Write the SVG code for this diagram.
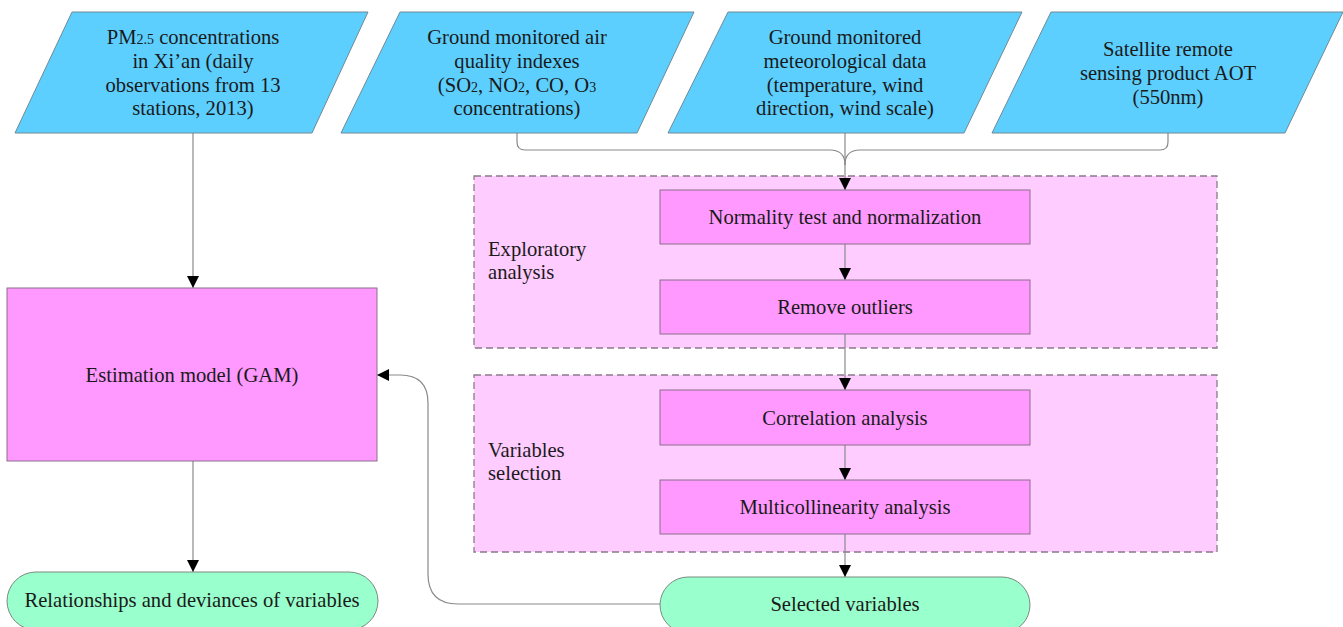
<svg xmlns="http://www.w3.org/2000/svg" width="1343" height="627" viewBox="0 0 1343 627">
<style>
.t{font-family:"Liberation Serif","DejaVu Serif",serif;font-size:20.6px;fill:#1a1a1a;text-anchor:middle}
.l{font-family:"Liberation Serif","DejaVu Serif",serif;font-size:20.6px;fill:#1a1a1a}
.para{fill:#5ccfff;stroke:#6f8a96;stroke-width:1}
.proc{fill:#ff99ff;stroke:#8a6f8a;stroke-width:1}
.grp{fill:#ffccff;stroke:#8a7a8a;stroke-width:1.3;stroke-dasharray:7,4}
.term{fill:#99ffcc;stroke:#7a8a80;stroke-width:1}
.c{fill:none;stroke:#8a8a8a;stroke-width:1.2}
.sub{font-size:14px}
</style>
<defs>
<marker id="ah" markerUnits="userSpaceOnUse" viewBox="0 0 12 12" markerWidth="12" markerHeight="13" refX="12" refY="6" orient="auto">
<path d="M0,0 L12,6 L0,12 z" fill="#000"/>
</marker>
</defs>
<g id="group-exploratory">
<rect class="grp" x="474" y="176" width="743" height="172"/>
<text class="l" x="488" y="256">Exploratory</text>
<text class="l" x="488" y="279">analysis</text>
</g>
<g id="group-selection">
<rect class="grp" x="474" y="375" width="743" height="177"/>
<text class="l" x="488" y="457">Variables</text>
<text class="l" x="488" y="480">selection</text>
</g>
<g id="connectors">
<path class="c" d="M193,133 V288" marker-end="url(#ah)"/>
<path class="c" d="M517,133 V142 Q517,150 525,150 H830 Q845,150 845,165"/>
<path class="c" d="M1168,133 V142 Q1168,150 1160,150 H860 Q845,150 845,165"/>
<path class="c" d="M845,133 V190" marker-end="url(#ah)"/>
<path class="c" d="M845,244 V280" marker-end="url(#ah)"/>
<path class="c" d="M845,334 V390" marker-end="url(#ah)"/>
<path class="c" d="M845,445 V480" marker-end="url(#ah)"/>
<path class="c" d="M845,534 V577" marker-end="url(#ah)"/>
<path class="c" d="M193,461 V572" marker-end="url(#ah)"/>
<path class="c" d="M660,604 H458 Q428,604 428,574 V403 Q428,375 400,375 H377" marker-end="url(#ah)"/>
</g>
<g id="n-pm25">
<polygon class="para" points="72,12 368,12 312,133 15,133"/>
<text class="t" x="193" y="44">PM<tspan class="sub">2.5</tspan> concentrations</text>
<text class="t" x="193" y="68">in Xi’an (daily</text>
<text class="t" x="193" y="92">observations from 13</text>
<text class="t" x="193" y="115">stations, 2013)</text>
</g>
<g id="n-airquality">
<polygon class="para" points="400,12 694,12 637,133 341,133"/>
<text class="t" x="517" y="44">Ground monitored air</text>
<text class="t" x="517" y="68">quality indexes</text>
<text class="t" x="517" y="92">(SO<tspan class="sub">2</tspan>, NO<tspan class="sub">2</tspan>, CO, O<tspan class="sub">3</tspan></text>
<text class="t" x="517" y="115">concentrations)</text>
</g>
<g id="n-meteo">
<polygon class="para" points="728,12 1022,12 964,133 668,133"/>
<text class="t" x="845" y="44">Ground monitored</text>
<text class="t" x="845" y="68">meteorological data</text>
<text class="t" x="845" y="92">(temperature, wind</text>
<text class="t" x="845" y="115">direction, wind scale)</text>
</g>
<g id="n-satellite">
<polygon class="para" points="1051,12 1343,12 1285,133 992,133"/>
<text class="t" x="1168" y="56">Satellite remote</text>
<text class="t" x="1168" y="80">sensing product AOT</text>
<text class="t" x="1168" y="104">(550nm)</text>
</g>
<g id="n-normality">
<rect class="proc" x="660" y="190" width="370" height="54"/>
<text class="t" x="845" y="224">Normality test and normalization</text>
</g>
<g id="n-outliers">
<rect class="proc" x="660" y="280" width="370" height="54"/>
<text class="t" x="845" y="314">Remove outliers</text>
</g>
<g id="n-correlation">
<rect class="proc" x="660" y="390" width="370" height="55"/>
<text class="t" x="845" y="425">Correlation analysis</text>
</g>
<g id="n-multicollinearity">
<rect class="proc" x="660" y="480" width="370" height="54"/>
<text class="t" x="845" y="514">Multicollinearity analysis</text>
</g>
<g id="n-gam">
<rect class="proc" x="7" y="288" width="370" height="173"/>
<text class="t" x="192" y="382">Estimation model (GAM)</text>
</g>
<g id="n-relationships">
<rect class="term" x="7" y="572" width="371" height="58" rx="29" ry="29"/>
<text class="t" x="192" y="607">Relationships and deviances of variables</text>
</g>
<g id="n-selected">
<rect class="term" x="660" y="577" width="370" height="56" rx="28" ry="28"/>
<text class="t" x="845" y="611">Selected variables</text>
</g>
</svg>
